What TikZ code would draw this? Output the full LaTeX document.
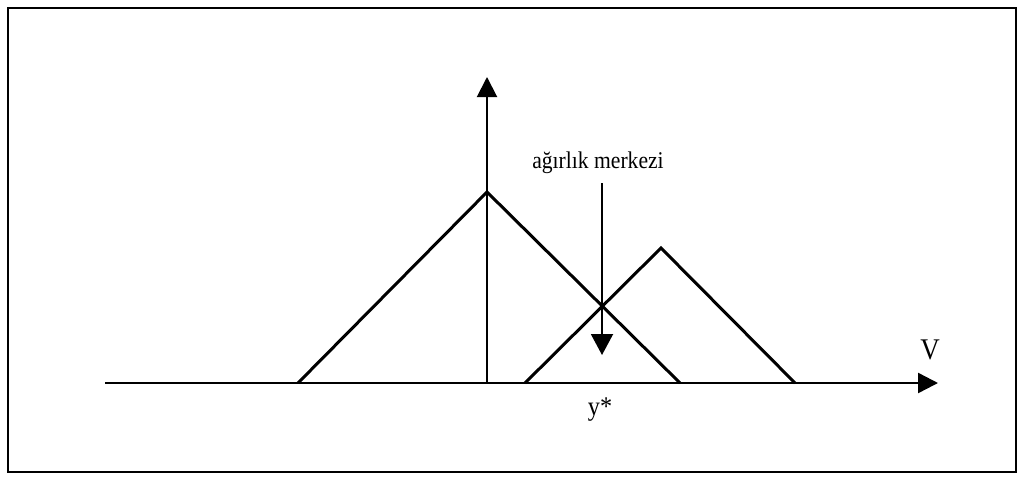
\documentclass[tikz,border=0pt]{standalone}
\usepackage{fontspec}
\setmainfont{Liberation Serif}
\usetikzlibrary{arrows.meta}
\tikzset{
  frame/.style={line width=2pt},
  axisline/.style={line width=2.4pt, -{Triangle[length=20pt,width=20pt]}},
  vaxis/.style={line width=2pt, -{Triangle[length=20pt,width=20pt]}},
  tri/.style={line width=3pt, line join=miter},
  marker/.style={line width=2pt, -{Triangle[length=21pt,width=22pt]}},
  lbl/.style={inner sep=0pt, xscale=0.9}
}
\begin{document}
\begin{tikzpicture}[x=1pt,y=-1pt]
\useasboundingbox (0,0) rectangle (1024,482);
\draw[frame] (8,8) rectangle (1016,472);
% axes
\coordinate (xs) at (105,383);
\coordinate (xe) at (938,383);
\coordinate (O) at (487,383);
\coordinate (ye) at (487,77);
\draw[axisline] (xs) -- (xe);
\draw[vaxis] (O) -- (ye);
% triangles
\coordinate (a1) at (298,383);
\coordinate (p1) at (487,192);
\coordinate (b1) at (680,383);
\coordinate (a2) at (525,383);
\coordinate (p2) at (661,248);
\coordinate (b2) at (795,383);
\draw[tri] (a1) -- (p1) -- (b1);
\draw[tri] (a2) -- (p2) -- (b2);
% labels
\node[lbl, font=\fontsize{24}{28}\selectfont] (lab) at (598,163) {ağırlık merkezi};
\coordinate (cs) at (602,183);
\coordinate (ce) at (602,355);
\draw[marker] (cs) -- (ce);
\node[lbl, font=\fontsize{30}{34}\selectfont] (V) at (930,350) {V};
\node[lbl, font=\fontsize{27}{30}\selectfont] (ys) at (600,410) {y*};
\end{tikzpicture}
\end{document}
